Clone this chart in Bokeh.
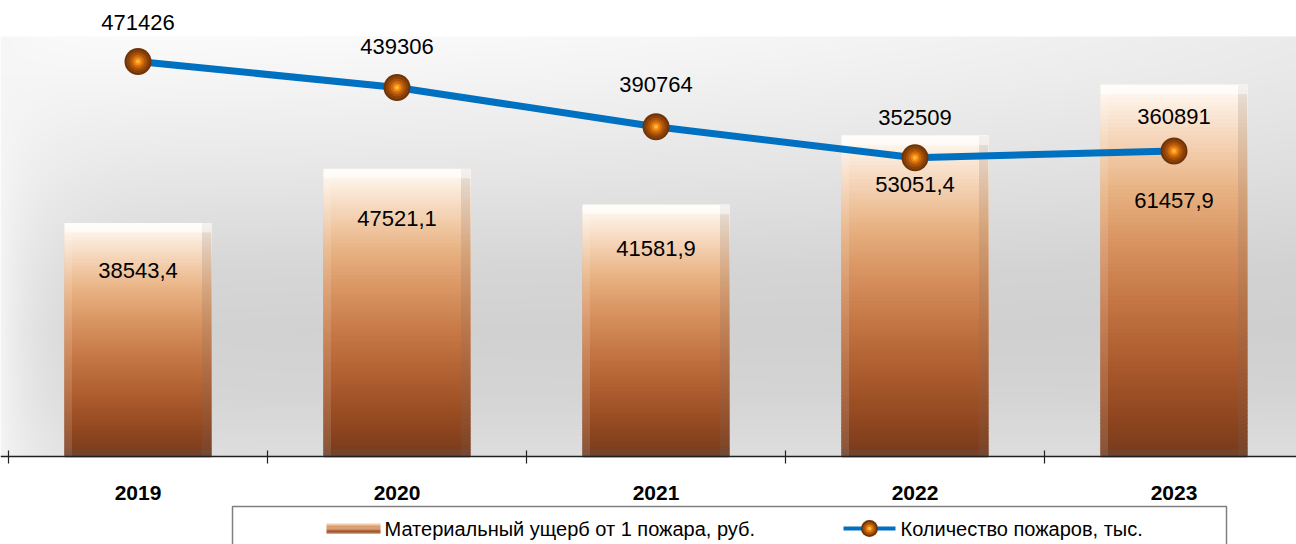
import numpy as np
from bokeh.plotting import figure
from bokeh.models import Range1d, ColumnDataSource, Span
from bokeh.core.properties import value
from bokeh.embed import file_html
from bokeh.resources import INLINE

# ---------------- data ----------------
years = ["2019", "2020", "2021", "2022", "2023"]
damage = [38543.4, 47521.1, 41581.9, 53051.4, 61457.9]          # руб. per fire
fires = [471426, 439306, 390764, 352509, 360891]                # number of fires
damage_labels = ["38543,4", "47521,1", "41581,9", "53051,4", "61457,9"]
fire_labels = ["471426", "439306", "390764", "352509", "360891"]
legend_labels = ["Материальный ущерб от 1 пожара, руб.", "Количество пожаров, тыс."]

# ---------------- layout / style ----------------
W, H = 1296, 544
X0 = 8.0                # pixel column of the left category boundary
CAT_PX = 259.0          # pixels per category
BASE = 456.0            # pixel row of the zero line
BAR_VPP = 165.5         # bar value per pixel
LINE_ZERO = 442.7       # pixel row of zero for the line scale
LINE_VPP = 1235.0       # line value per pixel
BAR_W = 146.0 / CAT_PX
FONT = "Liberation Sans"
bar_label_off = [47, 49, 43, 49, 115]
line_label_off = [-39, -41, -42, -40, -34]

def fx(px):
    return 0.5 + (px - X0) / CAT_PX

def fy(py):
    return (BASE - py) * BAR_VPP

p = figure(width=W, height=H, output_backend="svg", toolbar_location=None,
           x_range=Range1d(fx(0), fx(W)),
           y_range=Range1d(fy(H), fy(0)),
           x_axis_location=None, y_axis_location=None, min_border=0,
           outline_line_color=None, background_fill_color="white",
           border_fill_color="white")
p.extra_y_ranges = {"line": Range1d(-(H - LINE_ZERO) * LINE_VPP, LINE_ZERO * LINE_VPP)}
p.xgrid.visible = False
p.ygrid.visible = False

# ---------------- plot-area background gradient ----------------
top_px = 36.0
rows, cols = 210, 648
tt = 1.0 - (np.arange(rows) + 0.5) / rows          # 0 at top
xx = (np.arange(cols) + 0.5) / cols * W
vt = np.interp(tt, [0, 0.08, 0.3, 0.55, 0.7, 0.85, 1.0],
               [251, 247, 233, 215, 210, 213, 222])
G = vt[:, None] * np.ones((1, cols))
left = np.exp(-xx / 50.0)[None, :]
G = G + (246 - G) * left * 0.95
G = G - 16 * (xx / W)[None, :] ** 2 * (1 - tt[:, None]) ** 1.5
G = np.clip(G, 0, 255).astype(np.uint8)
rgba = np.zeros((rows, cols, 4), dtype=np.uint8)
rgba[..., 0] = G
rgba[..., 1] = G
rgba[..., 2] = G
rgba[..., 3] = 255
img = rgba.view(dtype=np.uint32).reshape(rows, cols)
p.image_rgba(image=[img], x=fx(0), y=0, dw=W / CAT_PX, dh=(BASE - top_px) * BAR_VPP)

# ---------------- bars (gradient slices) ----------------
xs = list(range(1, len(years) + 1))
stops_t = [0, 0.05, 0.14, 0.28, 0.42, 0.58, 0.74, 0.88, 1.0]
stops_c = np.array([(255, 252, 248), (252, 238, 224), (245, 214, 186), (232, 178, 130),
                    (216, 148, 98), (196, 118, 68), (172, 92, 46), (146, 72, 32),
                    (118, 58, 28)], dtype=float)

def grad(t):
    return "#%02x%02x%02x" % tuple(int(round(np.interp(t, stops_t, stops_c[:, k]))) for k in range(3))

N = 90
sx, sb, st, sc = [], [], [], []
for x, v in zip(xs, damage):
    for k in range(N):
        sx.append(x)
        sb.append(v * k / N)
        st.append(v * (k + 1) / N)
        sc.append(grad(1 - (k + 0.5) / N))
p.vbar(x=sx, bottom=sb, top=st, width=BAR_W, fill_color=sc, line_color=sc, line_width=1.3)

# bevels
bw_l, bw_r = 7.0 / CAT_PX, 9.0 / CAT_PX
p.vbar(x=[x - BAR_W / 2 + bw_l / 2 for x in xs], bottom=0, top=damage, width=bw_l,
       fill_color="white", fill_alpha=0.13, line_color=None)
p.vbar(x=[x + BAR_W / 2 - bw_r / 2 for x in xs], bottom=0, top=damage, width=bw_r,
       fill_color="#7a6a64", fill_alpha=0.18, line_color=None)
p.vbar(x=xs, bottom=[v - 9 * BAR_VPP for v in damage], top=damage, width=BAR_W,
       fill_color="white", fill_alpha=0.5, line_color=None)
p.vbar(x=xs, bottom=0, top=7 * BAR_VPP, width=BAR_W,
       fill_color="#6a5550", fill_alpha=0.3, line_color=None)

# ---------------- axis line and ticks ----------------
p.add_layout(Span(location=0, dimension="width", line_color="#202020", line_width=1.5))
bounds = [i + 0.5 for i in range(len(years) + 1)]
p.segment(x0=bounds, x1=bounds, y0=[6 * BAR_VPP] * len(bounds), y1=[-7 * BAR_VPP] * len(bounds),
          line_color="#202020", line_width=1.2)
p.text(x=xs, y=[0] * len(xs), text=years, y_offset=36, text_align="center",
       text_baseline="middle", text_font=value(FONT), text_font_size="21px",
       text_font_style="bold", text_color="black")

# ---------------- bar labels ----------------
p.text(source=ColumnDataSource(dict(x=xs, y=damage, t=damage_labels, o=bar_label_off)),
       x="x", y="y", text="t", y_offset="o", text_align="center", text_baseline="middle",
       text_font=value(FONT), text_font_size="22px", text_color="black")

# ---------------- line ----------------
p.line(xs, fires, y_range_name="line", line_color="#0070c0", line_width=7)
for size, col in [(27, "#6e3408"), (23, "#8a4108"), (18, "#a9520a"), (13, "#cf6a0c"),
                  (8, "#f28a14"), (4, "#ffb838")]:
    p.scatter(xs, fires, y_range_name="line", size=size, fill_color=col, line_color=None)
p.text(source=ColumnDataSource(dict(x=xs, y=fires, t=fire_labels, o=line_label_off)),
       x="x", y="y", text="t", y_offset="o", y_range_name="line", text_align="center",
       text_baseline="middle", text_font=value(FONT), text_font_size="22px", text_color="black")

# ---------------- legend (drawn) ----------------
p.quad(left=fx(232), right=fx(1226), top=fy(506), bottom=fy(620),
       fill_color="white", line_color="#7f7f7f", line_width=1.5)
NS = 8
for k in range(NS):
    p.quad(left=fx(326), right=fx(380), top=fy(523 + 10 * k / NS), bottom=fy(523 + 10 * (k + 1) / NS),
           fill_color=grad(0.15 + 0.75 * (k + 0.5) / NS), line_color=None)
p.text(x=[fx(384)], y=[fy(528)], text=[legend_labels[0]], text_align="left",
       text_baseline="middle", text_font=value(FONT), text_font_size="20px", text_color="black")
p.segment(x0=[fx(843)], x1=[fx(895)], y0=[fy(528)], y1=[fy(528)], line_color="#0070c0", line_width=4)
for size, col in [(17, "#6e3408"), (13, "#a9520a"), (8, "#e07a10"), (4, "#ffb838")]:
    p.scatter([fx(869)], [fy(528)], size=size, fill_color=col, line_color=None)
p.text(x=[fx(900)], y=[fy(528)], text=[legend_labels[1]], text_align="left",
       text_baseline="middle", text_font=value(FONT), text_font_size="20px", text_color="black")

open("out.html", "w").write(file_html(p, INLINE))
